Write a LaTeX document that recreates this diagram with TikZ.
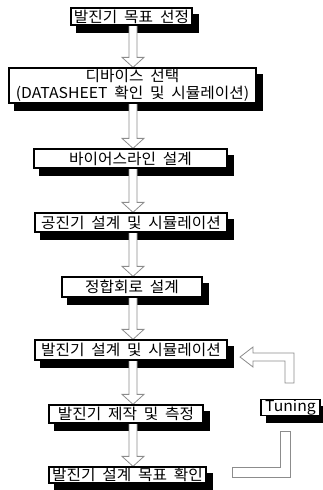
\documentclass[tikz,border=0pt]{standalone}
\usepackage{fontspec}
\setmainfont[FakeStretch=1.05]{Noto Sans CJK KR}
\usetikzlibrary{calc,backgrounds}
\newcommand\boxfont{\fontsize{15}{17}\selectfont\spaceskip 6.8pt\relax}
\tikzset{
  stepbox/.style={draw=black, line width=1.3pt, fill=white, inner sep=0pt, align=center,
    font=\boxfont},
  blockarrow/.style={draw=black!45, line width=0.8pt, fill=white, line join=miter},
  shadowfill/.style={fill=black, draw=none}
}
\newcommand\shadowof[1]{%
  \fill[shadowfill] ($(#1.south west)+(6pt,-7pt)$) rectangle ($(#1.north east)+(6pt,-7pt)$);}
\newcommand\blockdown[2]{%
  \path let \p1=(#1.south), \p2=(#2.north) in
    [blockarrow] (129pt,\y1) -- (129pt,\y2+10pt) -- (122pt,\y2+10pt) -- (133pt,\y2)
    -- (144pt,\y2+10pt) -- (137pt,\y2+10pt) -- (137pt,\y1);}
\begin{document}
\begin{tikzpicture}[x=1pt,y=-1pt]
\useasboundingbox (0,0) rectangle (323,490);
% boxes
\node[stepbox, minimum width=121pt, minimum height=17pt] (b1) at (131.5,16.5) {발진기 목표 선정};
\node[stepbox, minimum width=247pt, minimum height=35pt] (b2) at (132.5,85.5) {디바이스 선택\\(DATASHEET 확인 및 시뮬레이션)};
\node[stepbox, minimum width=193pt, minimum height=19pt] (b3) at (130.5,158.5) {바이어스라인 설계};
\node[stepbox, minimum width=192pt, minimum height=19pt] (b4) at (131,222.5) {공진기 설계 및 시뮬레이션};
\node[stepbox, minimum width=140pt, minimum height=20pt] (b5) at (132,287) {정합회로 설계};
\node[stepbox, minimum width=192pt, minimum height=20pt] (b6) at (131,350) {발진기 설계 및 시뮬레이션};
\node[stepbox, minimum width=154pt, minimum height=18pt] (b7) at (126,414) {발진기 제작 및 측정};
\node[stepbox, minimum width=157pt, minimum height=16pt] (b8) at (127.5,475) {발진기 설계 목표 확인};
\node[stepbox, minimum width=59pt, minimum height=15pt] (tn) at (290.5,407.5) {Tuning};
\coordinate (fbtip) at (240,357);
\coordinate (fbend) at (232,472);
\begin{scope}[on background layer]
  \foreach \n in {b1,b2,b3,b4,b5,b6,b7,b8,tn} {\shadowof{\n}}
  \blockdown{b1}{b2}
  \blockdown{b2}{b3}
  \blockdown{b3}{b4}
  \blockdown{b4}{b5}
  \blockdown{b5}{b6}
  \blockdown{b6}{b7}
  \blockdown{b7}{b8}
\end{scope}
% feedback arrows
\path[blockarrow] (fbtip) -- ++(13,-10) -- ++(0,6) -- (294,353) -- (294,383) -- (285,383)
  -- (285,361) -- (253,361) -- (253,367) -- cycle;
\path[blockarrow] (fbend) ++(0,-5) -- (280,467) -- (280,431) -- (290,431) -- (290,477)
  -- (232,477) -- cycle;
\end{tikzpicture}
\end{document}
